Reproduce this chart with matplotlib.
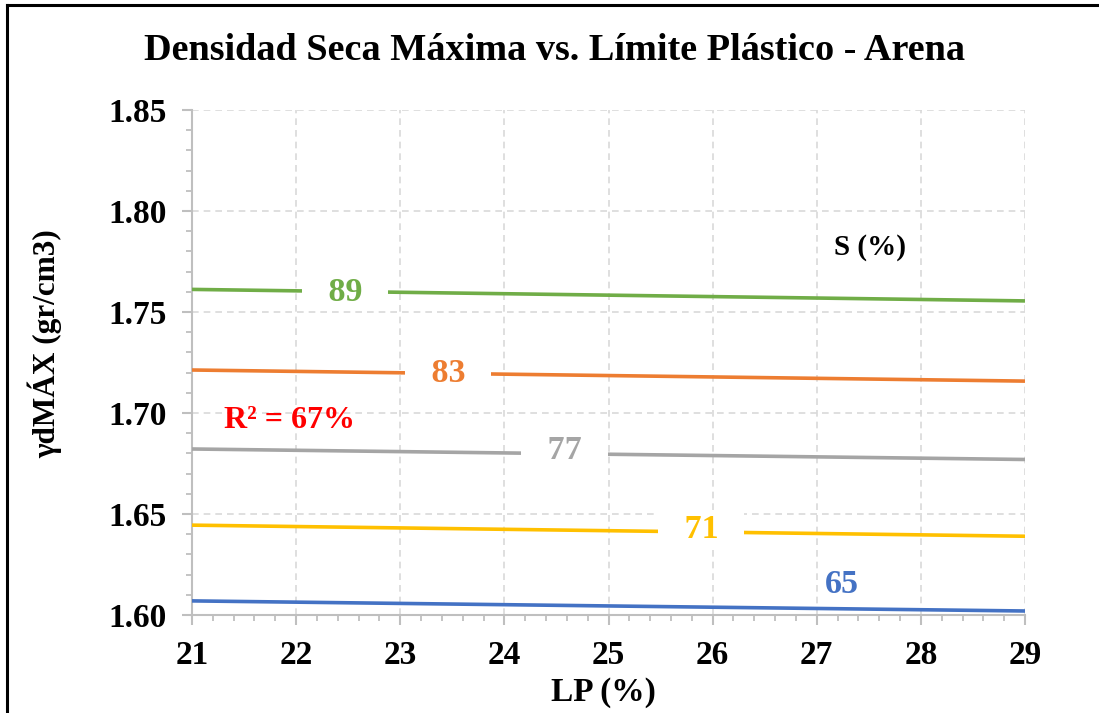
import numpy as np
import matplotlib.pyplot as plt
from matplotlib.lines import Line2D
from matplotlib.ticker import MultipleLocator

plt.rcParams['font.family'] = ['Liberation Serif', 'DejaVu Serif']
plt.rcParams['font.weight'] = 'bold'

# LP (%) range of the lines
lp = [21, 29]

# saturation lines S (%) -> gamma d max at LP=21 and LP=29
s_values = ['65', '71', '77', '83', '89']
gd_65 = [1.607, 1.602]
gd_71 = [1.6445, 1.639]
gd_77 = [1.6822, 1.677]
gd_83 = [1.7213, 1.7158]
gd_89 = [1.7612, 1.7555]
series = [gd_65, gd_71, gd_77, gd_83, gd_89]
colors = ['#4472C4', '#FFC000', '#A5A5A5', '#ED7D31', '#70AD47']

# inline label positions (LP, gd)
label_x = [27.24, 25.89, 24.58, 23.46, 22.47]
label_y = [1.6153, 1.6425, 1.6815, 1.7195, 1.7595]
label_box = [False, True, True, True, True]

fig = plt.figure(figsize=(10.99, 7.13), dpi=100)
ax = fig.add_axes([0.1747, 0.1374, 0.7580, 0.7083])

for vals, c in zip(series, colors):
    ax.plot(lp, vals, color=c, lw=2.6, solid_capstyle='butt', zorder=3)

for s, x, y, c, box in zip(s_values, label_x, label_y, colors, label_box):
    kw = {}
    txt = s
    if box:
        # white gap in the line around the label
        txt = '   ' + s + '   '
        kw['bbox'] = dict(facecolor='white', edgecolor='none', pad=0.5)
    ax.text(x, y, txt, color=c, fontsize=24.5, fontweight='bold',
            ha='center', va='center', zorder=4, **kw)

ax.text(27.51, 1.782, 'S (%)', fontsize=21, fontweight='bold',
        ha='center', va='center', color='black')
ax.text(21.94, 1.6965, 'R² = 67%', fontsize=23, fontweight='bold',
        ha='center', va='center', color='#FF0000')

ax.set_xlim(21, 29)
ax.set_ylim(1.60, 1.85)
ax.xaxis.set_major_locator(MultipleLocator(1))
ax.xaxis.set_minor_locator(MultipleLocator(0.2))
ax.yaxis.set_major_locator(MultipleLocator(0.05))
ax.yaxis.set_minor_locator(MultipleLocator(0.01))
ax.yaxis.set_major_formatter(plt.FormatStrFormatter('%.2f'))

ax.grid(True, which='major', color='#D9D9D9', linestyle=(0, (4, 3)), lw=1.2, zorder=0)
ax.set_axisbelow(True)
for sp in ['top', 'right']:
    ax.spines[sp].set_visible(False)
for sp in ['left', 'bottom']:
    ax.spines[sp].set_color('#BFBFBF')
    ax.spines[sp].set_linewidth(1.5)

ax.tick_params(which='major', length=7, width=1.5, color='#BFBFBF',
               labelsize=24, pad=11)
ax.tick_params(which='minor', length=4, width=1.3, color='#BFBFBF')
for lab in ax.get_xticklabels() + ax.get_yticklabels():
    lab.set_fontweight('bold')

fig.text(0.549, 1 - 692 / 713, 'LP (%)', fontsize=24, fontweight='bold',
         ha='center', va='center')
fig.text(45 / 1099, 1 - 344 / 713, 'γdMÁX (gr/cm3)', fontsize=22.5,
         fontweight='bold', ha='center', va='center', rotation=90)
fig.text(0.505, 1 - 51 / 713, 'Densidad Seca Máxima vs. Límite Plástico - Arena',
         fontsize=27.5, fontweight='bold', ha='center', va='center')

# outer chart frame
fig.add_artist(Line2D([0.0064, 1.0], [0.993, 0.993], color='black', lw=2.2))
fig.add_artist(Line2D([0.0064, 0.0064], [0.0, 0.993], color='black', lw=2.2))

fig.savefig('out.png', dpi=100)
